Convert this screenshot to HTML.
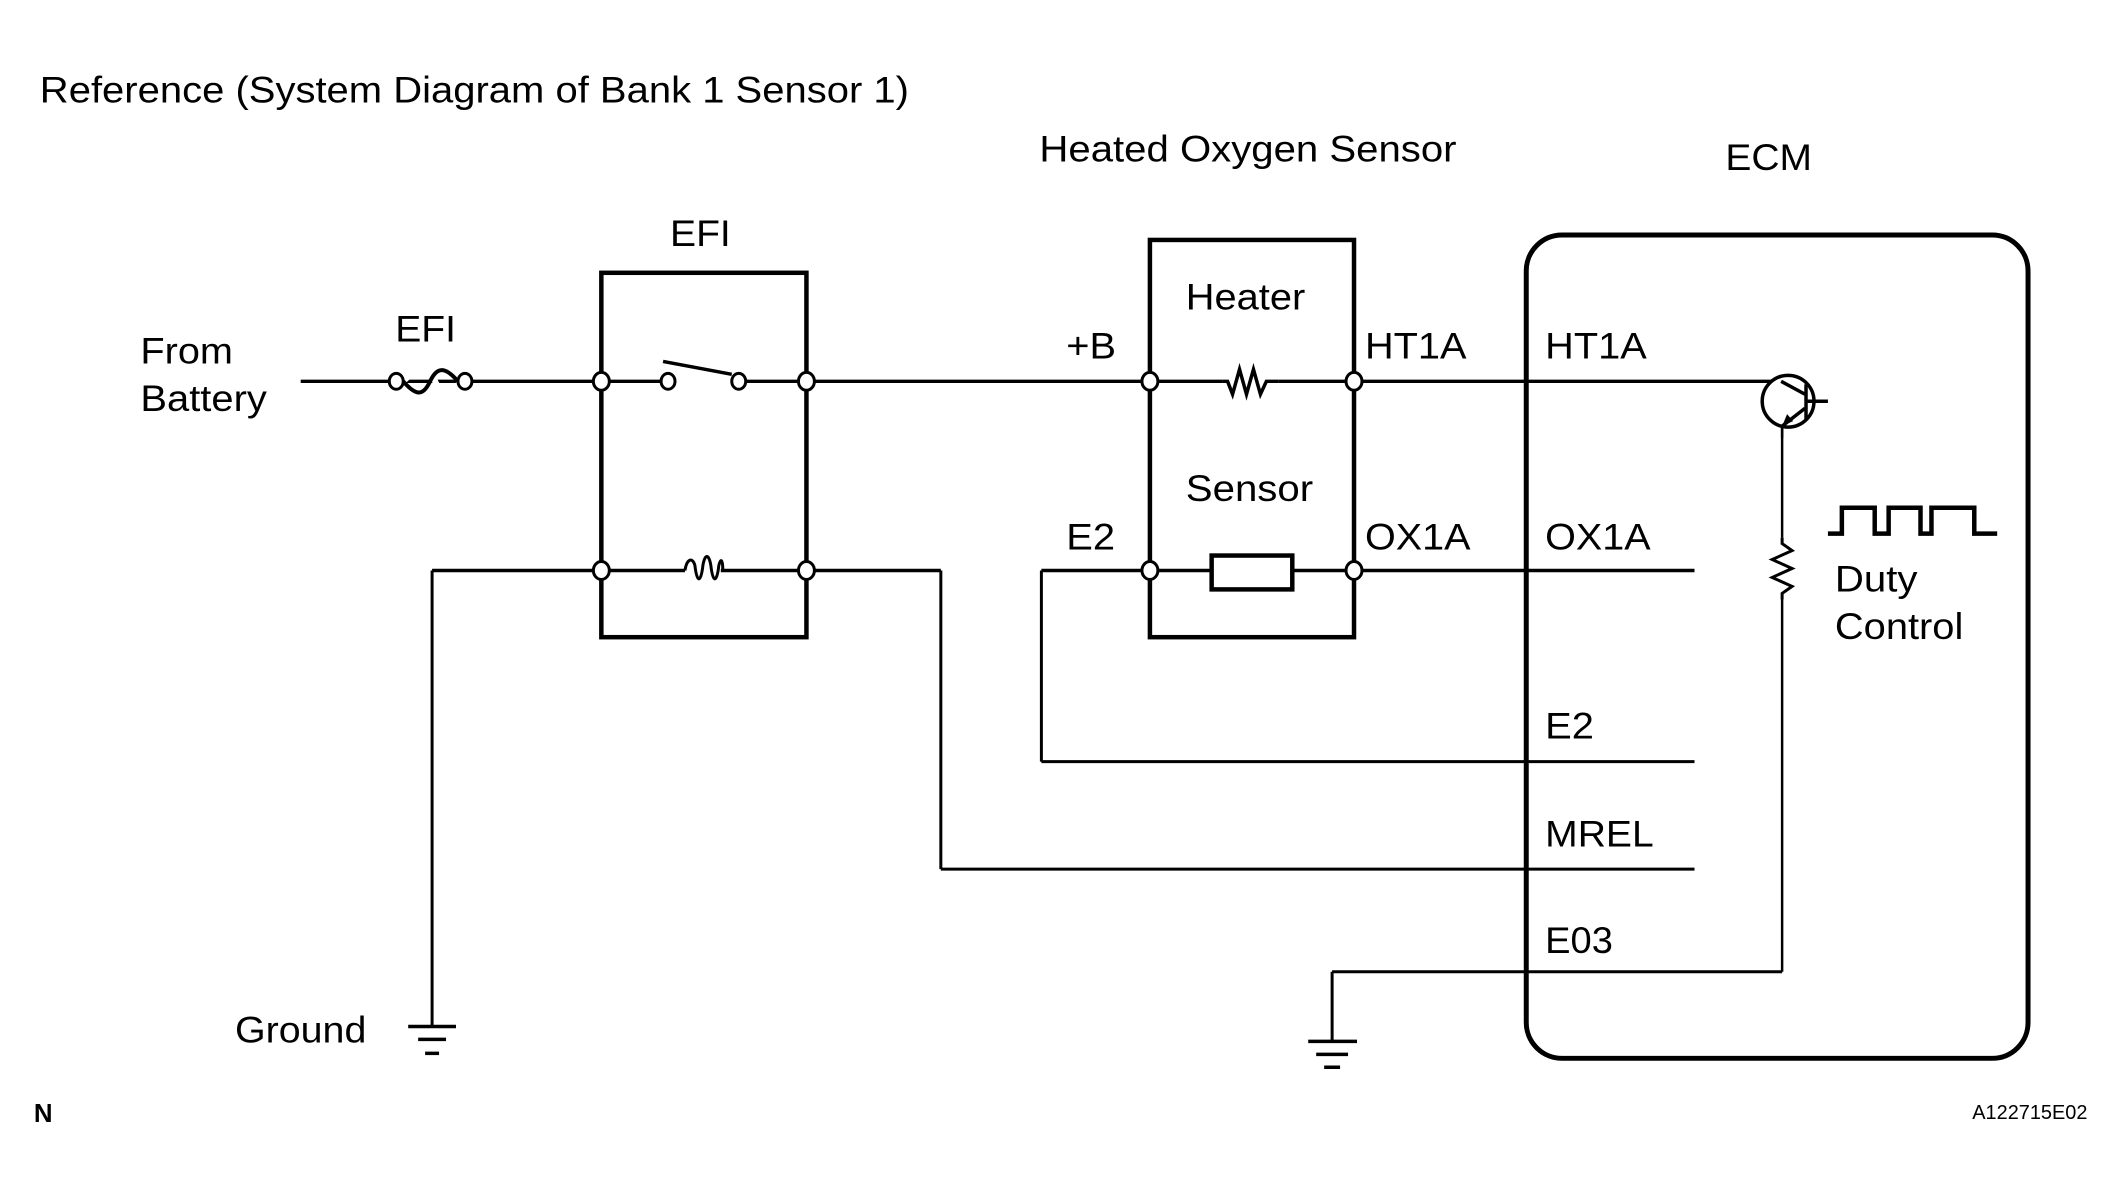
<!DOCTYPE html>
<html><head><meta charset="utf-8"><style>
html,body{margin:0;padding:0;background:#fff;}
svg text{font-family:"Liberation Sans",Arial,sans-serif;fill:#000;}
</style></head><body>
<svg width="2124" height="1198" viewBox="0 0 2124 1198" xmlns="http://www.w3.org/2000/svg">
<g transform="scale(0.9956)">
<g font-size="37" lengthAdjust="spacingAndGlyphs">
<text x="40" y="103" textLength="873" lengthAdjust="spacingAndGlyphs">Reference (System Diagram of Bank 1 Sensor 1)</text>
<text x="1044" y="162" textLength="419" lengthAdjust="spacingAndGlyphs">Heated Oxygen Sensor</text>
<text x="1733" y="171" textLength="87" lengthAdjust="spacingAndGlyphs">ECM</text>
<text x="673" y="247" textLength="61" lengthAdjust="spacingAndGlyphs">EFI</text>
<text x="397" y="343" textLength="61" lengthAdjust="spacingAndGlyphs">EFI</text>
<text x="141" y="365" textLength="93" lengthAdjust="spacingAndGlyphs">From</text>
<text x="141" y="413" textLength="127" lengthAdjust="spacingAndGlyphs">Battery</text>
<text x="236" y="1047" textLength="132" lengthAdjust="spacingAndGlyphs">Ground</text>
<text x="1191" y="311" textLength="120" lengthAdjust="spacingAndGlyphs">Heater</text>
<text x="1191" y="503" textLength="128" lengthAdjust="spacingAndGlyphs">Sensor</text>
<text x="1071" y="360" textLength="50" lengthAdjust="spacingAndGlyphs">+B</text>
<text x="1371" y="360" textLength="102" lengthAdjust="spacingAndGlyphs">HT1A</text>
<text x="1552" y="360" textLength="102" lengthAdjust="spacingAndGlyphs">HT1A</text>
<text x="1071" y="552" textLength="49" lengthAdjust="spacingAndGlyphs">E2</text>
<text x="1371" y="552" textLength="106" lengthAdjust="spacingAndGlyphs">OX1A</text>
<text x="1552" y="552" textLength="106" lengthAdjust="spacingAndGlyphs">OX1A</text>
<text x="1552" y="742" textLength="49" lengthAdjust="spacingAndGlyphs">E2</text>
<text x="1552" y="850" textLength="109" lengthAdjust="spacingAndGlyphs">MREL</text>
<text x="1552" y="957" textLength="68" lengthAdjust="spacingAndGlyphs">E03</text>
<text x="1843" y="594" textLength="83" lengthAdjust="spacingAndGlyphs">Duty</text>
<text x="1843" y="642" textLength="129" lengthAdjust="spacingAndGlyphs">Control</text>
</g>
<text x="34" y="1127" font-size="26" font-weight="bold">N</text>
<text x="1981" y="1124" font-size="20">A122715E02</text>

<g stroke="#000" fill="none" stroke-width="3.5">
<line x1="302" y1="383" x2="1789" y2="383"/>
<rect x="604" y="274" width="206" height="366" stroke-width="4.5"/>
<line x1="434" y1="573" x2="688" y2="573"/>
<line x1="724" y1="573" x2="945" y2="573"/>
<line x1="434" y1="573" x2="434" y2="1031" stroke-width="3"/>
<line x1="945" y1="573" x2="945" y2="873" stroke-width="3"/>
<line x1="945" y1="873" x2="1702" y2="873" stroke-width="3"/>
<rect x="1155" y="241" width="205" height="399" stroke-width="4.5"/>
<line x1="1046" y1="573" x2="1702" y2="573"/>
<line x1="1046" y1="573" x2="1046" y2="765" stroke-width="3"/>
<line x1="1046" y1="765" x2="1702" y2="765" stroke-width="3"/>
<rect x="1217" y="558" width="81" height="34" fill="#fff" stroke-width="4.5"/>
<line x1="1338" y1="976" x2="1790" y2="976" stroke-width="3"/>
<line x1="1338" y1="976" x2="1338" y2="1046" stroke-width="3"/>
<line x1="1790" y1="976" x2="1790" y2="428" stroke-width="2.5"/>
<rect x="1533" y="236" width="504" height="827" rx="36" ry="36" stroke-width="5"/>
</g>
<g stroke="#000" stroke-width="3.5">
<line x1="410" y1="1031" x2="458" y2="1031"/>
<line x1="420" y1="1044" x2="448" y2="1044"/>
<line x1="427" y1="1058" x2="441" y2="1058"/>
<line x1="1314" y1="1046" x2="1363" y2="1046"/>
<line x1="1322" y1="1059" x2="1354" y2="1059"/>
<line x1="1330" y1="1072" x2="1346" y2="1072"/>
</g>
<path d="M405 383 C420 368,430 368,437 383 S455 398,462 383" stroke="#fff" stroke-width="6" fill="none"/>
<path d="M405 383 C418 398,425 398,432 383 S447 368,460 383" stroke="#000" stroke-width="4" fill="none"/>
<rect x="1228" y="372" width="56" height="22" fill="#fff"/>
<polyline points="1228,383 1233,383 1238,396 1245,371 1252,396 1259,371 1266,396 1272,383 1284,383" fill="none" stroke="#000" stroke-width="3.5"/>
<rect x="674" y="370" width="66" height="26" fill="#fff"/>
<line x1="666" y1="363" x2="735" y2="376" stroke="#000" stroke-width="3.5"/>
<path d="M688 573 C690 560,696 560,698 568 C700 586,704 586,706 568 C708 556,712 556,714 568 C716 586,720 586,722 568 C724 560,726 562,726 573" fill="none" stroke="#000" stroke-width="3"/>
<g fill="#fff" stroke="#000" stroke-width="3">
<ellipse cx="398" cy="383" rx="7" ry="8"/>
<ellipse cx="467" cy="383" rx="7" ry="8"/>
<ellipse cx="671" cy="383" rx="7" ry="8"/>
<ellipse cx="742" cy="383" rx="7" ry="8"/>
<ellipse cx="604" cy="383" rx="8" ry="9"/>
<ellipse cx="810" cy="383" rx="8" ry="9"/>
<ellipse cx="604" cy="573" rx="8" ry="9"/>
<ellipse cx="810" cy="573" rx="8" ry="9"/>
<ellipse cx="1155" cy="383" rx="8" ry="9"/>
<ellipse cx="1360" cy="383" rx="8" ry="9"/>
<ellipse cx="1155" cy="573" rx="8" ry="9"/>
<ellipse cx="1360" cy="573" rx="8" ry="9"/>
</g>
<g stroke="#000" fill="none" stroke-width="3.5">
<circle cx="1796" cy="403" r="26" fill="#fff"/>
<line x1="1789" y1="383" x2="1813" y2="396"/>
<line x1="1814" y1="386" x2="1814" y2="422"/>
<line x1="1814" y1="403" x2="1836" y2="403"/>
<line x1="1813" y1="410" x2="1790" y2="428"/>
<line x1="1790" y1="428" x2="1790" y2="440" stroke-width="2.5"/>
</g>
<polygon points="1790,428 1795,416 1801,423" fill="#000"/>
<rect x="1778" y="540" width="24" height="60" fill="#fff"/>
<polyline points="1790,540 1790,546 1800,553 1780,562 1800,571 1780,580 1800,589 1790,596 1790,602" fill="none" stroke="#000" stroke-width="3"/>
<polyline points="1836,536 1850,536 1850,510 1883,510 1883,536 1897,536 1897,510 1929,510 1929,536 1940,536 1940,510 1983,510 1983,536 2006,536" fill="none" stroke="#000" stroke-width="4.5"/>
</g>
</svg>
</body></html>
